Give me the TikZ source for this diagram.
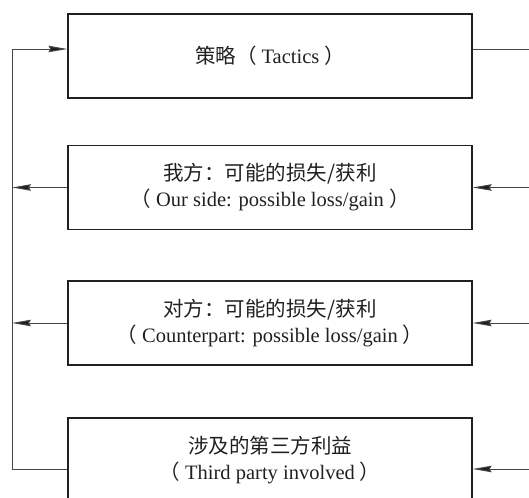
\documentclass[tikz,border=0pt]{standalone}
\usepackage{fontspec}
\setmainfont{Liberation Serif}
\newfontfamily\cjk{Noto Sans CJK SC}
\usetikzlibrary{arrows.meta}
\definecolor{ink}{RGB}{35,31,32}
\definecolor{wire}{RGB}{70,70,70}
\newcommand{\zh}[1]{{\cjk #1}}
\newcommand{\boxfont}{\fontsize{20.5pt}{26pt}\selectfont}
\begin{document}
\begin{tikzpicture}[x=1pt,y=1pt,
  box/.style={draw=ink,line width=1.3pt,minimum width=404pt,minimum height=84pt,
    inner sep=0pt,align=center,text=ink,font=\boxfont},
  link/.style={draw=wire,line width=0.9pt},
  arr/.style={link,-{Stealth[length=19pt,width=6.5pt,inset=2pt,fill=ink]}}]
  \useasboundingbox (0,0) rectangle (529,497);
  \clip (0,0) rectangle (529,497);

  % Four boxes, top to bottom
  \node[box] (tac) at (270,441) {\zh{策略（} Tactics \zh{）}};
  \node[box] (our) at (270,309.5)
    {\zh{我方：可能的损失/获利}\\\zh{（} Our side: possible loss/gain \zh{）}};
  \node[box] (opp) at (270,174)
    {\zh{对方：可能的损失/获利}\\\zh{（} Counterpart: possible loss/gain \zh{）}};
  \node[box] (third) at (270,37)
    {\zh{涉及的第三方利益}\\\zh{（} Third party involved \zh{）}};

  % Connection points and the two buses
  \coordinate (tac-w) at ([yshift=7pt]tac.west);
  \coordinate (tac-e) at ([yshift=7pt]tac.east);
  \coordinate (third-w) at ([yshift=-9pt]third.west);
  \coordinate (third-e) at ([yshift=-9pt]third.east);
  \coordinate (lbus) at (12,0);
  \coordinate (rbus) at (560,0);

  % Left bus: feedback into the tactics box
  \draw[arr] (third-w) -- (lbus |- third-w) |- (tac-w);
  % Right bus: tactics out to every box below
  \draw[link] (tac-e) -- (rbus |- tac-e) -- (rbus |- third-e);
  \draw[arr] (rbus |- third-e) -- (third-e);
  \foreach \n in {our,opp}{
    \draw[arr] (\n.west) -- (lbus |- \n.west);
    \draw[arr] (rbus |- \n.east) -- (\n.east);
  }
\end{tikzpicture}
\end{document}
